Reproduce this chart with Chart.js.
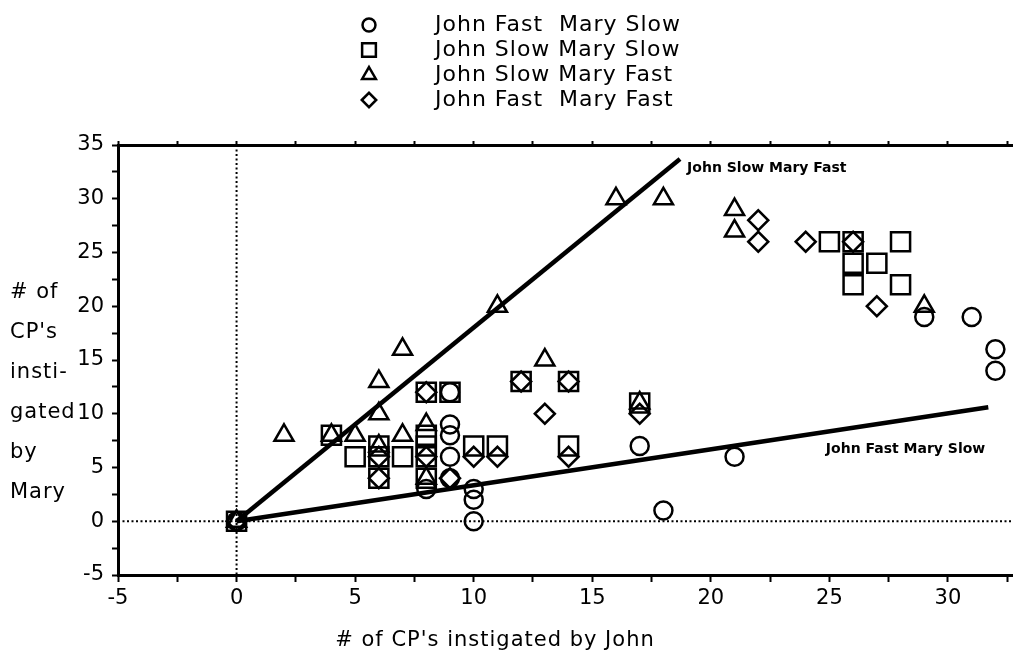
<!DOCTYPE html>
<html>
<head>
<meta charset="utf-8">
<script src="https://cdn.jsdelivr.net/npm/chart.js@4.4.0/dist/chart.umd.min.js"></script>
<style>
  body { margin: 0; background: #fff; }
  canvas { display: block; }
</style>
</head>
<body>
<canvas id="grafico" width="1014" height="669"></canvas>
<script>
// John Fast Mary Slow (circles)
let fastSlowX = [0, 8, 9, 9, 9, 9, 9, 10, 10, 10, 17, 18, 21, 29, 31, 32, 32];
let fastSlowY = [0, 3, 4, 6, 8, 9, 12, 3, 2, 0, 7, 1, 6, 19, 19, 16, 14];

// John Slow Mary Slow (squares)
let slowSlowX = [0, 4, 5, 6, 6, 6, 7, 8, 8, 8, 8, 8, 9, 10, 11, 12, 14, 14, 17, 25, 26, 26, 26, 27, 28, 28];
let slowSlowY = [0, 8, 6, 7, 6, 4, 6, 12, 8, 7, 6, 4, 12, 7, 7, 13, 13, 7, 11, 26, 26, 24, 22, 24, 26, 22];

// John Slow Mary Fast (triangles)
let slowFastX = [0, 2, 4, 5, 6, 6, 6, 7, 7, 8, 8, 11, 13, 16, 17, 18, 21, 21, 29];
let slowFastY = [0, 8, 8, 8, 7, 10, 13, 16, 8, 9, 4, 20, 15, 30, 11, 30, 29, 27, 20];

// John Fast Mary Fast (diamonds)
let fastFastX = [0, 6, 6, 8, 8, 9, 10, 11, 12, 13, 14, 14, 17, 22, 22, 24, 26, 27];
let fastFastY = [0, 6, 4, 12, 6, 4, 6, 6, 13, 10, 13, 6, 10, 28, 26, 26, 26, 20];

// fitted lines, end points
let fitSlowFastX = [0, 18.7];
let fitSlowFastY = [0, 33.7];
let fitFastSlowX = [0, 31.7];
let fitFastSlowY = [0, 10.6];

let etiquetas = ["John Fast  Mary Slow", "John Slow Mary Slow", "John Slow Mary Fast", "John Fast  Mary Fast"];
let etiquetasLineas = ["John Slow Mary Fast", "John Fast Mary Slow"];

let xTicks = [-5, -2.5, 0, 2.5, 5, 7.5, 10, 12.5, 15, 17.5, 20, 22.5, 25, 27.5, 30, 32.5];
let yTicks = [-5, -2.5, 0, 2.5, 5, 7.5, 10, 12.5, 15, 17.5, 20, 22.5, 25, 27.5, 30, 32.5, 35];

function puntos(xs, ys) {
  return xs.map((x, i) => ({ x: x, y: ys[i] }));
}

const fuente = "'DejaVu Sans', Arial, sans-serif";

function marca(label, xs, ys, estilo, radio) {
  return {
    label: label,
    data: puntos(xs, ys),
    pointStyle: estilo,
    pointRadius: radio,
    pointBorderWidth: 2.5,
    pointBorderColor: '#000',
    pointBackgroundColor: 'rgba(0,0,0,0)',
    showLine: false
  };
}

function linea(xs, ys) {
  return {
    label: '',
    data: puntos(xs, ys),
    showLine: true,
    borderColor: '#000',
    borderWidth: 4.5,
    pointRadius: 0
  };
}

// y title, x title, legend, line labels and dotted zero lines
const extras = {
  id: 'extras',
  beforeDatasetsDraw(chart) {
    const ctx = chart.ctx, a = chart.chartArea;
    const x0 = chart.scales.x.getPixelForValue(0);
    const y0 = chart.scales.y.getPixelForValue(0);
    ctx.save();
    ctx.strokeStyle = '#000';
    ctx.lineWidth = 2;
    ctx.setLineDash([2, 2.5]);
    ctx.beginPath();
    ctx.moveTo(x0, a.top);
    ctx.lineTo(x0, a.bottom);
    ctx.moveTo(a.left, y0);
    ctx.lineTo(a.right, y0);
    ctx.stroke();
    ctx.restore();
  },
  afterDraw(chart) {
    const ctx = chart.ctx;
    ctx.save();
    ctx.textBaseline = 'middle';

    // legend
    ctx.font = '22px ' + fuente;
    ctx.letterSpacing = '1px';
    for (let i = 0; i < 4; i++) {
      const ds = chart.data.datasets[i];
      const yy = 25 + i * 25;
      ctx.fillStyle = '#fff';
      ctx.strokeStyle = '#000';
      ctx.lineWidth = 2.5;
      Chart.helpers.drawPoint(ctx, {
        pointStyle: ds.pointStyle, radius: ds.pointRadius * 0.72,
        borderWidth: 2.5, rotation: 0
      }, 369, yy);
      ctx.fillStyle = '#000';
      ctx.textAlign = 'left';
      ctx.fillText(ds.label, 435, yy);
    }

    // y title
    ctx.font = '21px ' + fuente;
    ctx.letterSpacing = '1px';
    const tituloY = ["# of", "CP's", "insti-", "gated", "by", "Mary"];
    tituloY.forEach((t, i) => ctx.fillText(t, 10, 293 + i * 40));

    // x title
    ctx.letterSpacing = '1px';
    ctx.textAlign = 'center';
    ctx.fillText("# of CP's instigated by John", 495, 641);

    // line labels
    ctx.font = 'bold 14px ' + fuente;
    ctx.letterSpacing = '0px';
    ctx.textAlign = 'left';
    const sx = chart.scales.x, sy = chart.scales.y;
    ctx.fillText(etiquetasLineas[0], sx.getPixelForValue(19.0), sy.getPixelForValue(32.8));
    ctx.fillText(etiquetasLineas[1], sx.getPixelForValue(24.85), sy.getPixelForValue(6.7));
    ctx.restore();
  }
};

const grafico = document.getElementById('grafico').getContext('2d');

const chart = new Chart(grafico, {
  type: 'scatter',
  data: {
    datasets: [
      marca(etiquetas[0], fastSlowX, fastSlowY, 'circle', 9),
      marca(etiquetas[1], slowSlowX, slowSlowY, 'rect', 13.5),
      marca(etiquetas[2], slowFastX, slowFastY, 'triangle', 11),
      marca(etiquetas[3], fastFastX, fastFastY, 'rectRot', 10),
      linea(fitSlowFastX, fitSlowFastY),
      linea(fitFastSlowX, fitFastSlowY)
    ]
  },
  options: {
    responsive: false,
    animation: false,
    events: [],
    layout: { autoPadding: false, padding: { top: 139, left: 0, right: 2, bottom: 0 } },
    plugins: { legend: { display: false }, tooltip: { enabled: false } },
    scales: {
      x: {
        type: 'linear',
        position: 'bottom',
        min: -5,
        max: 32.7,
        afterBuildTicks: s => { s.ticks = xTicks.map(v => ({ value: v })); },
        afterFit: s => { s.height = 94; s.paddingLeft = 0; s.paddingRight = 0; },
        grid: { drawOnChartArea: false, drawTicks: true, tickLength: 7, tickWidth: 2, tickColor: '#000' },
        border: { color: '#000', width: 3 },
        ticks: {
          color: '#000',
          padding: 4,
          maxRotation: 0,
          autoSkip: false,
          font: { family: fuente, size: 21 },
          callback: v => (v % 5 === 0 ? v : '')
        }
      },
      xTop: {
        type: 'linear',
        position: 'top',
        min: -5,
        max: 32.7,
        afterBuildTicks: s => { s.ticks = xTicks.map(v => ({ value: v })); },
        afterFit: s => { s.height = 6; s.paddingLeft = 0; s.paddingRight = 0; },
        grid: { drawOnChartArea: false, drawTicks: true, tickLength: 4, tickWidth: 2, tickColor: '#000' },
        border: { color: '#000', width: 3 },
        ticks: { display: false }
      },
      y: {
        type: 'linear',
        min: -5,
        max: 35,
        afterBuildTicks: s => { s.ticks = yTicks.map(v => ({ value: v })); },
        afterFit: s => { s.width = 118; },
        grid: { drawOnChartArea: false, drawTicks: true, tickLength: 6, tickWidth: 2, tickColor: '#000' },
        border: { color: '#000', width: 3 },
        ticks: {
          color: '#000',
          padding: 8,
          autoSkip: false,
          font: { family: fuente, size: 21 },
          callback: v => (v % 5 === 0 ? v : '')
        }
      }
    }
  },
  plugins: [extras]
});
</script>
</body>
</html>
